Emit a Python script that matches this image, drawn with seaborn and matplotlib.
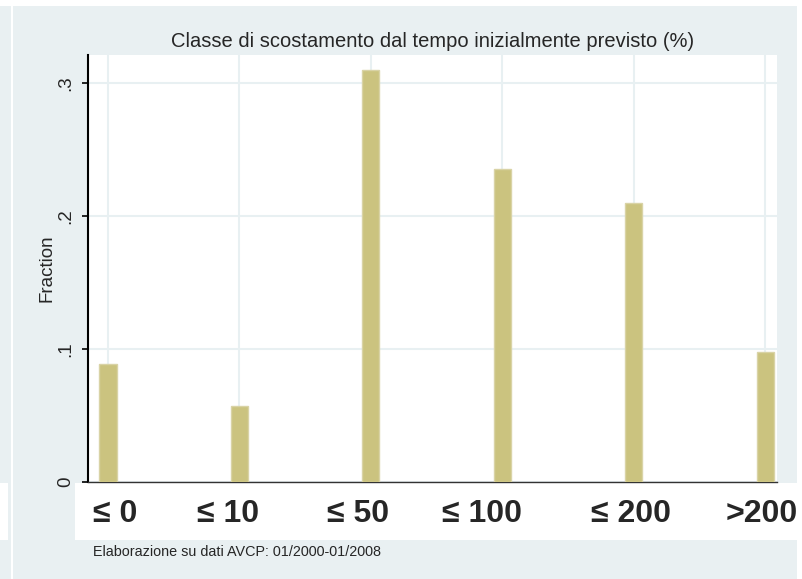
import numpy as np
import pandas as pd
import seaborn as sns
import matplotlib.pyplot as plt
import matplotlib.transforms as mtransforms
from matplotlib.patches import Rectangle

classes = ['≤ 0', '≤ 10', '≤ 50', '≤ 100', '≤ 200', '>200']
fractions = [0.089, 0.057, 0.310, 0.235, 0.210, 0.098]
y_ticks = [0, 0.1, 0.2, 0.3]
y_ticklabels = ['0', '.1', '.2', '.3']

title = 'Classe di scostamento dal tempo inizialmente previsto (%)'
source = 'Elaborazione su dati AVCP: 01/2000-01/2008'

sns.set_style('white')
plt.rcParams['font.family'] = ['Liberation Sans', 'DejaVu Sans']

W, H = 803, 579
bg = '#e9f0f2'
bar_color = '#cbc37f'

fig = plt.figure(figsize=(W / 100, H / 100), dpi=100, facecolor=bg)

def px_rect(x0, y0, x1, y1, color):
    # rectangle in pixel coords (origin top-left)
    r = Rectangle((x0 / W, 1 - y1 / H), (x1 - x0) / W, (y1 - y0) / H,
                  transform=fig.transFigure, facecolor=color, edgecolor='none', zorder=-1)
    fig.patches.append(r)

px_rect(0, 0, W, 6, 'white')
px_rect(797, 0, W, H, 'white')
px_rect(11, 6, 13, H, 'white')
px_rect(0, 483, 8, 540, 'white')
px_rect(75, 483, 798, 540, 'white')

ax = fig.add_axes([88 / W, 1 - 482 / H, (777 - 88) / W, (482 - 55) / H])
ax.set_facecolor('white')

df = pd.DataFrame({'classe': classes, 'fraction': fractions})
sns.barplot(data=df, x='classe', y='fraction', order=classes, color=bar_color,
            width=0.13, edgecolor='#d9d3a6', linewidth=1, saturation=1, ax=ax, zorder=3)

ax.set_xlim(-0.152, 5.09)
ax.set_ylim(0, 0.321)
ax.set_yticks(y_ticks)
ax.set_yticklabels(y_ticklabels, rotation=90, va='center', fontsize=13.5)
ax.set_xticks(range(len(classes)))
ax.set_xticklabels(classes, fontsize=23, fontweight='bold')
ax.tick_params(axis='x', length=0, pad=12)
ax.tick_params(axis='y', length=4, width=1.2, color='black', pad=6, left=True)

# the big labels in the original are hand placed, nudge them a little
nudges = [7, -11, -13, -20, -3, -3]
for lab, dx in zip(ax.get_xticklabels(), nudges):
    lab.set_transform(lab.get_transform() + mtransforms.ScaledTranslation(dx / 100, 0, fig.dpi_scale_trans))

ax.grid(True, color='#e8f0f2', linewidth=1.5, zorder=0)
ax.set_axisbelow(True)

for side in ['top', 'right']:
    ax.spines[side].set_visible(False)
ax.spines['left'].set_color('black')
ax.spines['left'].set_linewidth(1.5)
ax.spines['bottom'].set_color('#333333')
ax.spines['bottom'].set_linewidth(1)

ax.set_xlabel('')
ax.set_ylabel('Fraction', fontsize=13.5, labelpad=1)
ax.set_title(title, fontsize=14.5, pad=6)

fig.text(93 / W, 1 - 552 / H, source, fontsize=10.4, ha='left', va='center')

plt.savefig('out.png', dpi=100, facecolor=bg)
plt.close()
